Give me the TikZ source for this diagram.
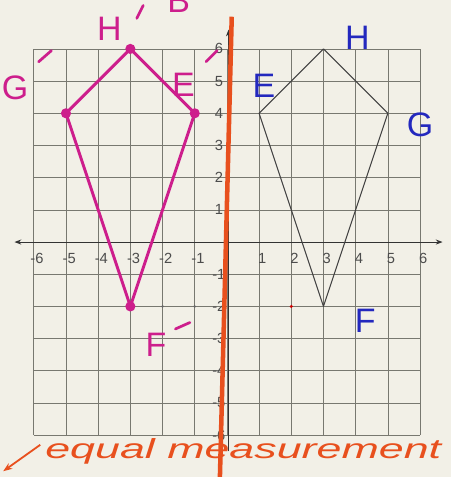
\documentclass[tikz,border=0pt]{standalone}
\usepackage{fontspec}
\setmainfont{Liberation Sans}
\usepackage{graphicx}
\usetikzlibrary{arrows.meta}
\definecolor{paper}{RGB}{242,240,231}
\definecolor{gridc}{RGB}{120,120,112}
\definecolor{mag}{RGB}{205,30,140}
\definecolor{blu}{RGB}{35,40,190}
\definecolor{orng}{RGB}{232,80,30}
\tikzset{
  gridline/.style={gridc, line width=0.6pt},
  axisline/.style={black!80, line width=0.8pt},
  imgkite/.style={mag, line width=2.6pt, line join=round},
  prekite/.style={black!75, line width=0.9pt, line join=round},
  vdot/.style={circle, fill=mag, inner sep=0pt, minimum size=9pt},
  numlab/.style={font=\fontsize{13}{13}\selectfont, text=black!70, inner sep=1pt},
  maglab/.style={font=\fontsize{30}{30}\selectfont, text=mag, inner sep=0pt},
  blulab/.style={font=\fontsize{30}{30}\selectfont, text=blu, inner sep=0pt},
  primestroke/.style={mag, line width=2.4pt, line cap=round},
}
\begin{document}
\begin{tikzpicture}[x=1cm,y=1cm]
\fill[paper] (-7.05,-7.30) rectangle (6.96,7.52);
\useasboundingbox (-7.05,-7.30) rectangle (6.96,7.52);
% grid
\draw[gridline] (-6,-6) grid (6,6);
% axes
\draw[axisline, {Stealth[length=6pt]}-{Stealth[length=6pt]}] (-6.6,0) -- (6.7,0);
\draw[axisline, -{Stealth[length=6pt]}] (0.05,-6.5) -- (0.05,6.6);
% axis numbers
\foreach \x in {-6,-5,-4,-3,-2,-1,1,2,3,4,5,6}
  \node[numlab] (xl\x) at (\x+0.1,-0.5) {\x};
\foreach \y in {-6,-5,-4,-3,-2,-1,1,2,3,4,5,6}
  \node[numlab] (yl\y) at (-0.25,\y) {\y};
% orange reflection line
\draw[orng, line width=4pt] (0.15,7.0) -- (-0.22,-7.4);
% pre-image kite
\coordinate (E) at (1,4);
\coordinate (H) at (3,6);
\coordinate (G) at (5,4);
\coordinate (F) at (3,-2);
\draw[prekite] (E) -- (H) -- (G) -- (F) -- cycle;
% image kite
\coordinate (E1) at (-1,4);
\coordinate (H1) at (-3,6);
\coordinate (G1) at (-5,4);
\coordinate (F1) at (-3,-2);
\draw[imgkite] (E1) -- (H1) -- (G1) -- (F1) -- cycle;
\foreach \p in {E1,H1,G1,F1} \node[vdot] (d\p) at (\p) {};
% small marks on y=-2
\node[circle, fill=black!60, inner sep=0pt, minimum size=2.5pt] (m1) at (-2,-2) {};
\node[circle, fill=black!60, inner sep=0pt, minimum size=2.5pt] (m2) at (-1,-2) {};
\node[circle, fill=red!80!black, inner sep=0pt, minimum size=3pt] (m3) at (2,-2) {};
% labels pre-image
\node[blulab] (lE) at (1.15,4.85) {E};
\node[blulab] (lH) at (4.05,6.35) {H};
\node[blulab] (lG) at (6.0,3.65) {G};
\node[blulab] (lF) at (4.3,-2.45) {F};
% labels image
\node[maglab] (lG1) at (-6.58,4.78) {G};
\coordinate (pg1) at (-5.85,5.6); \coordinate (pg2) at (-5.45,5.95);
\draw[primestroke] (pg1) -- (pg2);
\node[maglab] (lH1) at (-3.65,6.62) {H};
\coordinate (ph1) at (-2.8,6.95); \coordinate (ph2) at (-2.6,7.35);
\draw[primestroke] (ph1) -- (ph2);
\node[maglab] (lB) at (-1.5,7.5) {B};
\node[maglab] (lE1) at (-1.35,4.88) {E};
\coordinate (pe1) at (-0.65,5.6); \coordinate (pe2) at (-0.3,5.95);
\draw[primestroke] (pe1) -- (pe2);
\node[maglab] (lF1) at (-2.2,-3.2) {F};
\coordinate (pf1) at (-1.6,-2.7); \coordinate (pf2) at (-1.15,-2.5);
\draw[primestroke] (pf1) -- (pf2);
% bottom note
\node[text=orng, inner sep=0pt, anchor=base west] (note) at (-5.65,-6.71)
  {\resizebox{12.3cm}{0.62cm}{\itshape equal measurement}};
\coordinate (arrS) at (-5.8,-6.3);
\coordinate (arrE) at (-6.95,-7.12);
\draw[orng, line width=1.6pt, -{Stealth[length=8pt]}] (arrS) -- (arrE);
\end{tikzpicture}
\end{document}
